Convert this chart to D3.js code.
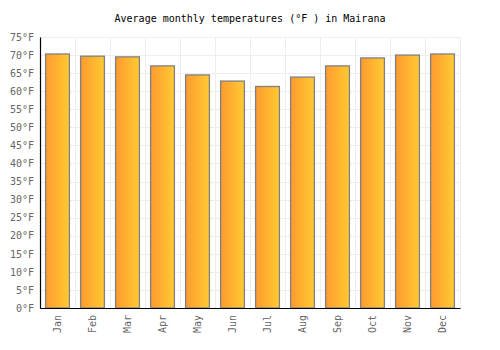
<!DOCTYPE html>
<html>
<head>
<meta charset="utf-8">
<script src="https://cdn.jsdelivr.net/npm/d3@7"></script>
<style>
  body { margin: 0; background: #fff; }
  text { font-family: "DejaVu Sans Mono", monospace; }
</style>
</head>
<body>
<svg id="chart" width="500" height="350"></svg>
<script>
const months = ["Jan", "Feb", "Mar", "Apr", "May", "Jun", "Jul", "Aug", "Sep", "Oct", "Nov", "Dec"];
const temps = [70.3, 69.7, 69.5, 67.0, 64.5, 62.8, 61.3, 63.9, 67.0, 69.2, 70.0, 70.3];
const yTicks = d3.range(0, 80, 5);

const svg = d3.select("#chart"),
  margin = { top: 37, right: 40, bottom: 42, left: 40 },
  width = 500 - margin.left - margin.right,
  height = 350 - margin.top - margin.bottom;

const defs = svg.append("defs");
const grad = defs.append("linearGradient").attr("id", "barGrad")
  .attr("x1", "0%").attr("x2", "100%").attr("y1", "0%").attr("y2", "0%");
grad.append("stop").attr("offset", "0%").attr("stop-color", "#ff9a2e");
grad.append("stop").attr("offset", "100%").attr("stop-color", "#ffcb33");

const g = svg.append("g")
  .attr("transform", `translate(${margin.left},${margin.top})`);

const x = d3.scaleBand().domain(months).range([0, width]).paddingInner(0.32).paddingOuter(0.16);
const xb = d3.scaleBand().domain(months).range([0, width]);
const y = d3.scaleLinear().domain([0, 75]).range([height, 0]);

// grid
g.selectAll(".hgrid").data(yTicks).enter().append("line")
  .attr("x1", 0).attr("x2", width)
  .attr("y1", d => Math.round(y(d)) + 0.5).attr("y2", d => Math.round(y(d)) + 0.5)
  .attr("stroke", "#eeeeee");
g.selectAll(".vgrid").data(months.concat(["end"])).enter().append("line")
  .attr("x1", (d, i) => Math.round(i * xb.step()) + 0.5)
  .attr("x2", (d, i) => Math.round(i * xb.step()) + 0.5)
  .attr("y1", 0).attr("y2", height)
  .attr("stroke", "#eeeeee");

// bars
g.selectAll(".bar").data(temps).enter().append("rect")
  .attr("x", (d, i) => x(months[i]))
  .attr("y", d => y(d))
  .attr("width", x.bandwidth())
  .attr("height", d => height - y(d))
  .attr("fill", "url(#barGrad)")
  .attr("stroke", "#808080")
  .attr("stroke-width", 1.3);

// axes
const yAxis = g.append("g").call(d3.axisLeft(y).tickValues(yTicks).tickSize(0).tickPadding(6).tickFormat(d => d + "°F"));
yAxis.select(".domain").attr("stroke", "#000").attr("stroke-width", 1.2);
yAxis.selectAll("text").attr("fill", "#666").attr("font-size", "10px")
  .style("font-family", "'DejaVu Sans Mono', monospace");

const xAxis = g.append("g").attr("transform", `translate(0,${height})`)
  .call(d3.axisBottom(xb).tickSize(0).tickPadding(0));
xAxis.select(".domain").attr("stroke", "#000").attr("stroke-width", 1.2);
xAxis.selectAll("text").attr("fill", "#666").attr("font-size", "10px")
  .style("font-family", "'DejaVu Sans Mono', monospace")
  .attr("transform", "rotate(-90)")
  .attr("text-anchor", "end")
  .attr("x", -7).attr("y", 0).attr("dy", "0.35em");

svg.append("text")
  .attr("x", 250).attr("y", 22)
  .attr("text-anchor", "middle")
  .attr("font-size", "10px")
  .attr("fill", "#000")
  .text("Average monthly temperatures (°F ) in Mairana");
</script>
</body>
</html>
